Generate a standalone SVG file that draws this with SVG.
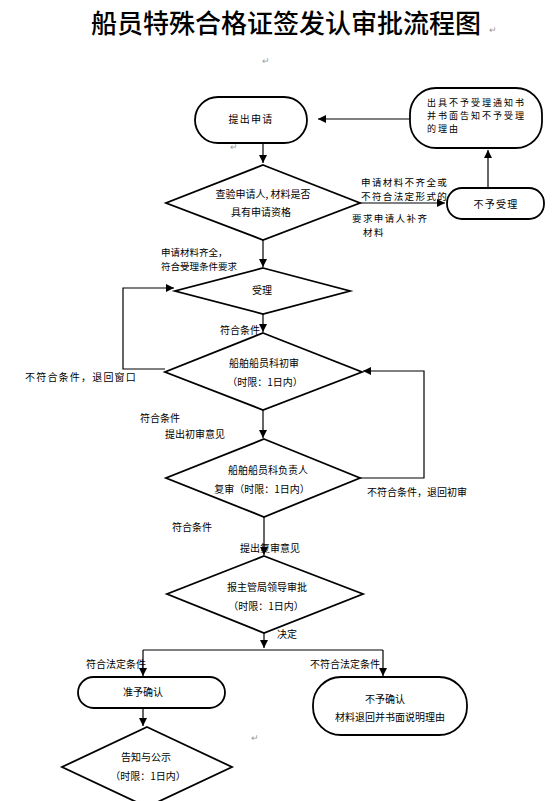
<svg xmlns="http://www.w3.org/2000/svg" width="560" height="801" viewBox="0 0 560 801">
<style>
.shape{fill:#fff;stroke:#000;stroke-width:1.8}
.conn{fill:none;stroke:#000;stroke-width:1.2}
text{font-family:"Noto Sans CJK SC","Liberation Sans",sans-serif;font-size:10px;fill:#000}
.c{text-anchor:middle}
.t{font-size:26px;font-weight:500}
.sp{letter-spacing:1.2px}
.s2{font-size:9.5px;letter-spacing:1.4px}
.s3{font-size:9.5px}
.sm{font-size:9px;letter-spacing:2px}
.pm{fill:#999;font-size:9px}
</style>
<defs>
<marker id="ah" viewBox="0 0 10 10" refX="10" refY="5" markerWidth="8" markerHeight="8" markerUnits="userSpaceOnUse" orient="auto">
<path d="M0,0 L10,5 L0,10 z" fill="#000"/>
</marker>
</defs>
<rect width="560" height="801" fill="#fff"/>
<text class="c t" x="286" y="33">船员特殊合格证签发认审批流程图</text>
<text class="pm" x="489" y="33">↵</text>
<text class="pm" x="262" y="64">↵</text>
<text class="pm" x="230" y="150">↵</text>
<text class="pm" x="251" y="741">↵</text>

<g id="connectors">
<path class="conn" d="M410,119 L318,119" marker-end="url(#ah)"/>
<path class="conn" d="M263,143 L263,163" marker-end="url(#ah)"/>
<path class="conn" d="M360,203 L445,203" marker-end="url(#ah)"/>
<path class="conn" d="M488,187 L488,150" marker-end="url(#ah)"/>
<path class="conn" d="M263,240 L263,267" marker-end="url(#ah)"/>
<path class="conn" d="M263,314 L263,332" marker-end="url(#ah)"/>
<path class="conn" d="M165,369 L123,369 L123,288 L174,288" marker-end="url(#ah)"/>
<path class="conn" d="M263,410 L263,438" marker-end="url(#ah)"/>
<path class="conn" d="M360,478 L424,478 L424,371 L363,371" marker-end="url(#ah)"/>
<path class="conn" d="M264,517 L264,555" marker-end="url(#ah)"/>
<path class="conn" d="M264,633 L264,648" marker-end="url(#ah)"/>
<path class="conn" d="M143,650 L383,650"/>
<path class="conn" d="M143,650 L143,676" marker-end="url(#ah)"/>
<path class="conn" d="M383,650 L383,676" marker-end="url(#ah)"/>
<path class="conn" d="M143,708 L143,726" marker-end="url(#ah)"/>
</g>

<g id="labels">
<text class="s2" x="361" y="186">申请材料不齐全或</text>
<text class="s2" x="361" y="200">不符合法定形式的</text>
<text class="s2" x="352" y="222">要求申请人补齐</text>
<text class="s2" x="363" y="236">材料</text>
<text class="s3" x="161" y="256">申请材料齐全，</text>
<text class="s3" x="161" y="270">符合受理条件要求</text>
<text x="220" y="334">符合条件</text>
<text class="sp" x="25" y="381">不符合条件，退回窗口</text>
<text x="140" y="422">符合条件</text>
<text x="165" y="438">提出初审意见</text>
<text x="367" y="496">不符合条件，退回初审</text>
<text x="172" y="531">符合条件</text>
<text x="240" y="552">提出复审意见</text>
<text x="277" y="638">决定</text>
<text x="86" y="668">符合法定条件</text>
<text x="310" y="668">不符合法定条件</text>
</g>

<g id="node-apply">
<rect class="shape" x="195" y="97" width="112" height="46" rx="23"/>
<text class="c sp" x="251" y="123">提出申请</text>
</g>

<g id="node-notice">
<rect class="shape" x="410" y="88" width="132" height="60" rx="26"/>
<text class="sm" x="427" y="106">出具不予受理通知书</text>
<text class="sm" x="427" y="119">并书面告知不予受理</text>
<text class="sm" x="427" y="132">的理由</text>
</g>

<g id="node-check">
<polygon class="shape" points="263,165 360,203 263,240 166,203"/>
<text class="c" x="263" y="198">查验申请人, 材料是否</text>
<text class="c" x="261" y="216">具有申请资格</text>
</g>

<g id="node-reject">
<rect class="shape" x="447" y="188" width="97" height="31" rx="15"/>
<text class="c sp" x="496" y="208">不予受理</text>
</g>

<g id="node-accept">
<polygon class="shape" points="263,268 350,291 263,314 175,291"/>
<text class="c" x="262" y="294">受理</text>
</g>

<g id="node-first">
<polygon class="shape" points="263,333 362,372 263,410 165,372"/>
<text class="c" x="264" y="367">船舶船员科初审</text>
<text class="c" x="265" y="386">（时限：1日内）</text>
</g>

<g id="node-second">
<polygon class="shape" points="264,439 360,478 264,517 166,478"/>
<text class="c" x="268" y="474">船舶船员科负责人</text>
<text class="c" x="262" y="493">复审（时限：1日内）</text>
</g>

<g id="node-approve">
<polygon class="shape" points="264,556 363,594 264,633 167,594"/>
<text class="c" x="267" y="591">报主管局领导审批</text>
<text class="c" x="266" y="610">（时限：1日内）</text>
</g>

<g id="node-grant">
<rect class="shape" x="78" y="677" width="147" height="31" rx="15.5"/>
<text class="c" x="143" y="696">准予确认</text>
</g>

<g id="node-deny">
<rect class="shape" x="313" y="677" width="154" height="58" rx="28"/>
<text class="c" x="385" y="703">不予确认</text>
<text class="c" x="390" y="721">材料退回并书面说明理由</text>
</g>

<g id="node-publish">
<polygon class="shape" points="147,727 232,767 147,807 62,767"/>
<text class="c" x="146" y="761">告知与公示</text>
<text class="c" x="148" y="780">（时限：1日内）</text>
</g>
</svg>
